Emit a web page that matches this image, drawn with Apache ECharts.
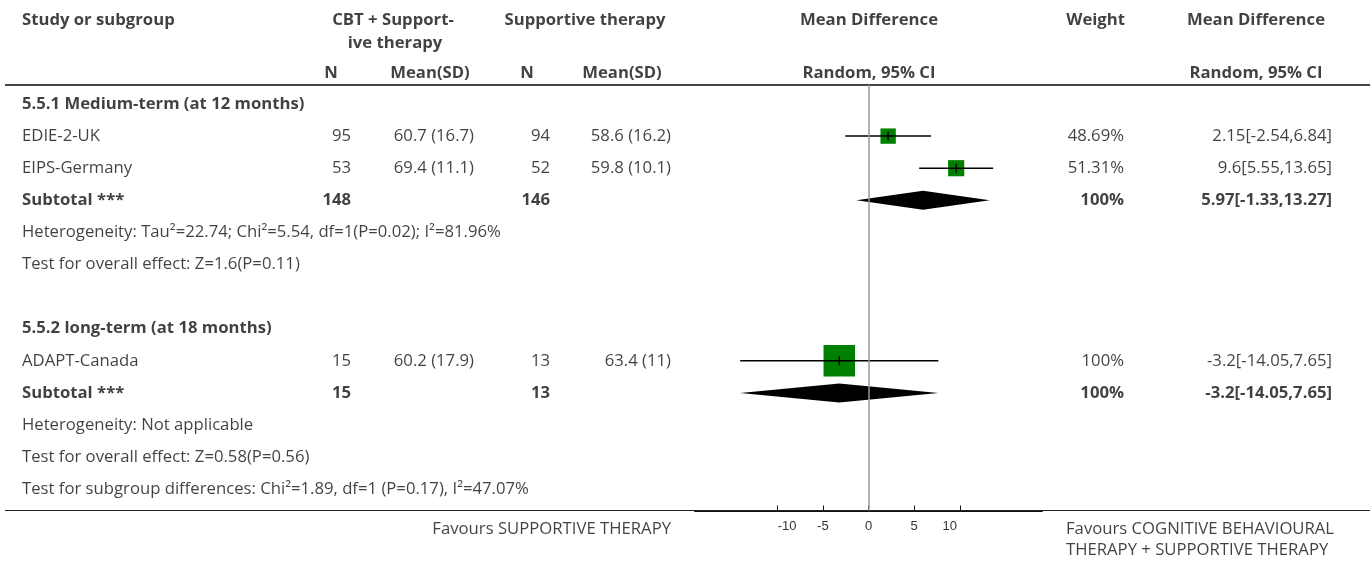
<!DOCTYPE html>
<html>
<head>
<meta charset="utf-8">
<script src="https://cdn.jsdelivr.net/npm/echarts@6/dist/echarts.min.js"></script>
<style>html,body{margin:0;padding:0;background:#fff;}#c{width:1370px;height:561px;}</style>
</head>
<body>
<div id="c"></div>
<script>
// ---------------- DATA ----------------
const studyNames = ['EDIE-2-UK', 'EIPS-Germany', 'ADAPT-Canada'];
const studyRows = [1, 2, 8];
const nCbt = [95, 53, 15];
const meanSdCbt = ['60.7 (16.7)', '69.4 (11.1)', '60.2 (17.9)'];
const nSup = [94, 52, 13];
const meanSdSup = ['58.6 (16.2)', '59.8 (10.1)', '63.4 (11)'];
const weights = [48.69, 51.31, 100];
const md = [2.15, 9.6, -3.2];
const mdLo = [-2.54, 5.55, -14.05];
const mdHi = [6.84, 13.65, 7.65];

const groupTitles = ['5.5.1 Medium-term (at 12 months)', '5.5.2 long-term (at 18 months)'];
const groupRows = [0, 7];
const subRows = [3, 9];
const subNCbt = [148, 15];
const subNSup = [146, 13];
const subWeights = [100, 100];
const subMd = [5.97, -3.2];
const subLo = [-1.33, -14.05];
const subHi = [13.27, 7.65];
const noteTexts = [
  'Heterogeneity: Tau\u00b2=22.74; Chi\u00b2=5.54, df=1(P=0.02); I\u00b2=81.96%',
  'Test for overall effect: Z=1.6(P=0.11)',
  'Heterogeneity: Not applicable',
  'Test for overall effect: Z=0.58(P=0.56)',
  'Test for subgroup differences: Chi\u00b2=1.89, df=1 (P=0.17), I\u00b2=47.07%'
];
const noteRows = [4, 5, 10, 11, 12];
const xTicks = [-10, -5, 0, 5, 10];
const xMin = -19, xMax = 19;
const favLeft = 'Favours SUPPORTIVE THERAPY';
const favRight = ['Favours COGNITIVE BEHAVIOURAL', 'THERAPY + SUPPORTIVE THERAPY'];

// ---------------- LAYOUT ----------------
const FONT = 'Open Sans';
const FS = 16.7;
const ROW_H = 32.1, ROW0_Y = 104;
const H = 561, W = 1370;
const rowOf = y => (y - ROW0_Y) / ROW_H;
const tblMin = -3, tblMax = 14;
const tblTop = ROW0_Y + tblMin * ROW_H;
const tblH = (tblMax - tblMin) * ROW_H;
const tblLeft = 5;
const plotTop = 85, plotBottomY = 510.5;
const plotLeft = 695, plotWidth = 347;

const col = {study: 22, nCbt: 351, mCbt: 474, nSup: 550, mSup: 671, weight: 1124, md: 1332};

const texts = []; // [x, row, text, align, bold]
function T(x, row, s, align, bold) { texts.push([x, row, String(s), align, bold ? 1 : 0]); }
// headers
T(col.study, rowOf(20), 'Study or subgroup', 'left', 1);
T(393, rowOf(20), 'CBT + Support-', 'center', 1);
T(395, rowOf(43), 'ive therapy', 'center', 1);
T(585, rowOf(20), 'Supportive therapy', 'center', 1);
T(869, rowOf(20), 'Mean Difference', 'center', 1);
T(1125, rowOf(20), 'Weight', 'right', 1);
T(1256, rowOf(20), 'Mean Difference', 'center', 1);
T(331, rowOf(73), 'N', 'center', 1);
T(430, rowOf(73), 'Mean(SD)', 'center', 1);
T(527, rowOf(73), 'N', 'center', 1);
T(622, rowOf(73), 'Mean(SD)', 'center', 1);
T(869, rowOf(73), 'Random, 95% CI', 'center', 1);
T(1256, rowOf(73), 'Random, 95% CI', 'center', 1);
groupTitles.forEach((g, i) => T(col.study, groupRows[i], g, 'left', 1));
studyNames.forEach((s, i) => {
  const r = studyRows[i];
  T(col.study, r, s, 'left', 0);
  T(col.nCbt, r, nCbt[i], 'right', 0);
  T(col.mCbt, r, meanSdCbt[i], 'right', 0);
  T(col.nSup, r, nSup[i], 'right', 0);
  T(col.mSup, r, meanSdSup[i], 'right', 0);
  T(col.weight, r, weights[i] + '%', 'right', 0);
  T(col.md, r, md[i] + '[' + mdLo[i] + ',' + mdHi[i] + ']', 'right', 0);
});
subRows.forEach((r, i) => {
  T(col.study, r, 'Subtotal ***', 'left', 1);
  T(col.nCbt, r, subNCbt[i], 'right', 1);
  T(col.nSup, r, subNSup[i], 'right', 1);
  T(col.weight, r, subWeights[i] + '%', 'right', 1);
  T(col.md, r, subMd[i] + '[' + subLo[i] + ',' + subHi[i] + ']', 'right', 1);
});
noteTexts.forEach((s, i) => T(col.study, noteRows[i], s, 'left', 0));
T(671, rowOf(529), favLeft, 'right', 0);
T(1066, rowOf(529), favRight[0], 'left', 0);
T(1066, rowOf(550), favRight[1], 'left', 0);

const studyData = studyNames.map((s, i) => [md[i], mdLo[i], mdHi[i], studyRows[i], weights[i]]);
const subData = subRows.map((r, i) => [subMd[i], subLo[i], subHi[i], r]);

const chart = echarts.init(document.getElementById('c'), null, {renderer: 'canvas'});
chart.setOption({
  animation: false,
  backgroundColor: '#fff',
  textStyle: {fontFamily: FONT},
  grid: [
    {left: tblLeft, right: 0, top: tblTop, height: tblH, containLabel: false},
    {left: plotLeft, width: plotWidth, top: plotTop, height: plotBottomY - plotTop, containLabel: false}
  ],
  xAxis: [
    {gridIndex: 0, type: 'value', min: tblLeft, max: W, show: false},
    {gridIndex: 1, type: 'value', min: xMin, max: xMax, position: 'bottom',
     axisLine: {show: true, onZero: false, lineStyle: {color: '#111', width: 2}},
     axisTick: {show: true, inside: true, length: 5, customValues: xTicks, lineStyle: {color: '#111', width: 1}},
     axisLabel: {show: true, customValues: xTicks, color: '#333', fontSize: 13, margin: 9, fontFamily: 'Liberation Sans',
       formatter: function (v) {
         if (v === xTicks[0]) return '{a|' + v + '}';
         if (v === xTicks[xTicks.length - 1]) return '{b|' + v + '}';
         return String(v);
       },
       rich: {
         a: {padding: [0, 0, 0, 20], fontSize: 13, color: '#333', fontFamily: 'Liberation Sans'},
         b: {padding: [0, 20, 0, 0], fontSize: 13, color: '#333', fontFamily: 'Liberation Sans'}
       }},
     splitLine: {show: false}}
  ],
  yAxis: [
    {gridIndex: 0, type: 'value', inverse: true, min: tblMin, max: tblMax, show: false},
    {gridIndex: 1, type: 'value', inverse: true, min: rowOf(plotTop), max: rowOf(plotBottomY), show: false}
  ],
  series: [
    {
      type: 'scatter', xAxisIndex: 0, yAxisIndex: 0, symbolSize: 0, silent: true, clip: false,
      data: texts.map(t => ({value: [t[0], t[1]], label: {
        show: true, position: 'inside', formatter: t[2], align: t[3], verticalAlign: 'middle',
        fontWeight: t[4] ? 'bold' : 'normal', fontSize: FS, color: '#111', fontFamily: FONT
      }})),
      markLine: {
        silent: true, symbol: 'none', label: {show: false},
        data: [
          {yAxis: rowOf(85), lineStyle: {color: '#444', width: 2, type: 'solid'}},
          {yAxis: rowOf(plotBottomY), lineStyle: {color: '#222', width: 1.2, type: 'solid'}}
        ]
      }
    },
    {
      type: 'custom', xAxisIndex: 1, yAxisIndex: 1, silent: true, clip: false,
      data: studyData,
      renderItem: function (params, api) {
        const r = api.value(3);
        const pLo = api.coord([api.value(1), r]);
        const pHi = api.coord([api.value(2), r]);
        const pE = api.coord([api.value(0), r]);
        const s = api.value(4) * 0.315;
        return {type: 'group', children: [
          {type: 'rect', shape: {x: pE[0] - s / 2, y: pE[1] - s / 2, width: s, height: s}, style: {fill: '#008000'}},
          {type: 'line', shape: {x1: pLo[0], y1: pLo[1], x2: pHi[0], y2: pHi[1]}, style: {stroke: '#000', lineWidth: 1.5}},
          {type: 'line', shape: {x1: pE[0], y1: pE[1] - 4.5, x2: pE[0], y2: pE[1] + 4.5}, style: {stroke: '#000', lineWidth: 1.5}}
        ]};
      },
      markLine: {
        silent: true, symbol: 'none', label: {show: false},
        lineStyle: {color: '#999', width: 1.5, type: 'solid'},
        data: [{xAxis: 0}]
      }
    },
    {
      type: 'custom', xAxisIndex: 1, yAxisIndex: 1, silent: true, clip: false,
      data: subData,
      renderItem: function (params, api) {
        const r = api.value(3);
        const pLo = api.coord([api.value(1), r]);
        const pHi = api.coord([api.value(2), r]);
        const pE = api.coord([api.value(0), r]);
        const h = 9.5;
        return {type: 'polygon', shape: {points: [[pLo[0], pLo[1]], [pE[0], pE[1] - h], [pHi[0], pHi[1]], [pE[0], pE[1] + h]]},
          style: {fill: '#000'}};
      }
    }
  ]
});
</script>
</body>
</html>
